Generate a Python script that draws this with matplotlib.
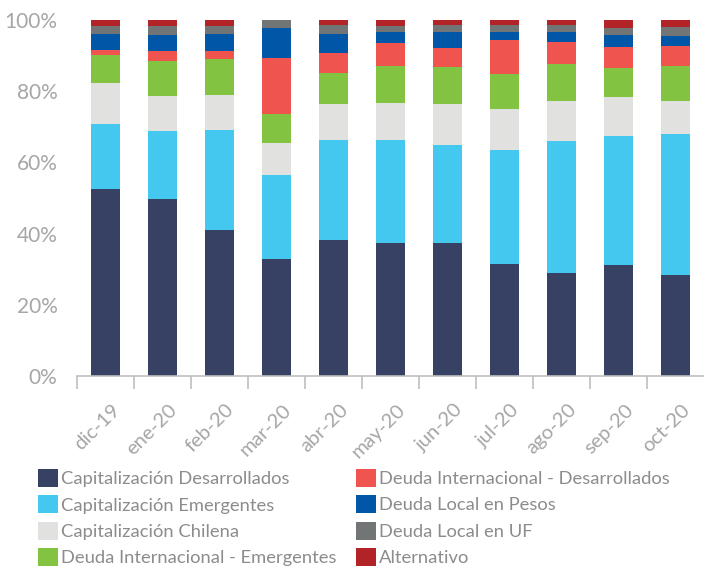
import matplotlib.pyplot as plt
import matplotlib.transforms as mtransforms
import numpy as np

# Data (share of portfolio, %)
months = ['dic-19', 'ene-20', 'feb-20', 'mar-20', 'abr-20', 'may-20',
          'jun-20', 'jul-20', 'ago-20', 'sep-20', 'oct-20']
cap_desarrollados = [52.5, 49.7, 41.0, 32.9, 38.2, 37.4, 37.4, 31.5, 28.9, 31.2, 28.4]
cap_emergentes = [18.3, 19.1, 28.1, 23.6, 28.1, 28.9, 27.5, 32.0, 37.1, 36.2, 39.6]
cap_chilena = [11.6, 9.9, 9.8, 8.9, 10.1, 10.4, 11.5, 11.5, 11.2, 11.0, 9.2]
deuda_int_emergentes = [7.8, 9.8, 10.1, 8.2, 8.7, 10.4, 10.4, 9.8, 10.4, 8.1, 9.9]
deuda_int_desarrollados = [1.4, 2.8, 2.3, 15.7, 5.6, 6.4, 5.3, 9.6, 6.2, 5.9, 5.6]
deuda_local_pesos = [4.5, 4.5, 4.8, 8.5, 5.4, 3.1, 4.5, 2.2, 2.8, 3.4, 2.8]
deuda_local_uf = [2.2, 2.5, 2.2, 2.2, 2.5, 1.7, 2.0, 2.0, 2.0, 2.0, 2.5]
alternativo = [1.7, 1.7, 1.7, 0.0, 1.7, 1.7, 1.4, 1.4, 1.4, 2.2, 2.0]

series = [
    ('Capitalización Desarrollados', cap_desarrollados, '#364163'),
    ('Capitalización Emergentes', cap_emergentes, '#44C8EF'),
    ('Capitalización Chilena', cap_chilena, '#E1E2E0'),
    ('Deuda Internacional - Emergentes', deuda_int_emergentes, '#82C341'),
    ('Deuda Internacional - Desarrollados', deuda_int_desarrollados, '#F0544F'),
    ('Deuda Local en Pesos', deuda_local_pesos, '#0057A8'),
    ('Deuda Local en UF', deuda_local_uf, '#727576'),
    ('Alternativo', alternativo, '#B22328'),
]

plt.rcParams['font.family'] = ['Lato', 'DejaVu Sans']
_GRAY = '#a6a6a6'

fig = plt.figure(figsize=(7.04, 5.67), dpi=100)
ax = fig.add_axes([77 / 704, 191 / 567, 627 / 704, 356 / 567])

x = np.arange(len(months))
bottom = np.zeros(len(months))
for name, vals, color in series:
    vals = np.array(vals)
    ax.bar(x, vals, width=0.51, bottom=bottom, color=color, label=name)
    bottom += vals

ax.set_xlim(-0.5, len(months) - 0.5)
ax.set_ylim(0, 100)
ax.set_yticks(np.arange(0, 101, 20))
ax.set_yticklabels([f'{v}%' for v in range(0, 101, 20)])

# minor ticks at category boundaries, labels at centers
ax.set_xticks(x)
ax.set_xticklabels(months, rotation=45, ha='right', rotation_mode='anchor')
ax.set_xticks(np.arange(-0.5, len(months) - 1, 1.0), minor=True)
ax.tick_params(axis='x', which='major', length=0, pad=18, labelsize=14.5,
               labelcolor=_GRAY)
ax.tick_params(axis='x', which='minor', length=9, width=1.2, color='#bfbfbf')
ax.tick_params(axis='y', length=0, pad=14, labelsize=15, labelcolor=_GRAY)
shift = mtransforms.ScaledTranslation(6 / 100, 0, fig.dpi_scale_trans)
for lab in ax.get_xticklabels():
    lab.set_transform(lab.get_transform() + shift)

for side in ['top', 'right', 'left']:
    ax.spines[side].set_visible(False)
ax.spines['bottom'].set_color('#bfbfbf')
ax.spines['bottom'].set_linewidth(1.2)

leg = fig.legend(loc='upper left', bbox_to_anchor=(38 / 704, 1 - 469 / 567),
                 ncol=2, frameon=False, fontsize=13.2, handlelength=1.1,
                 handleheight=1.1, handletextpad=0.15, columnspacing=1.05,
                 labelspacing=0.46, borderpad=0, borderaxespad=0)
for t in leg.get_texts():
    t.set_color('#8c8c8c')

fig.savefig('out.png', dpi=100)
